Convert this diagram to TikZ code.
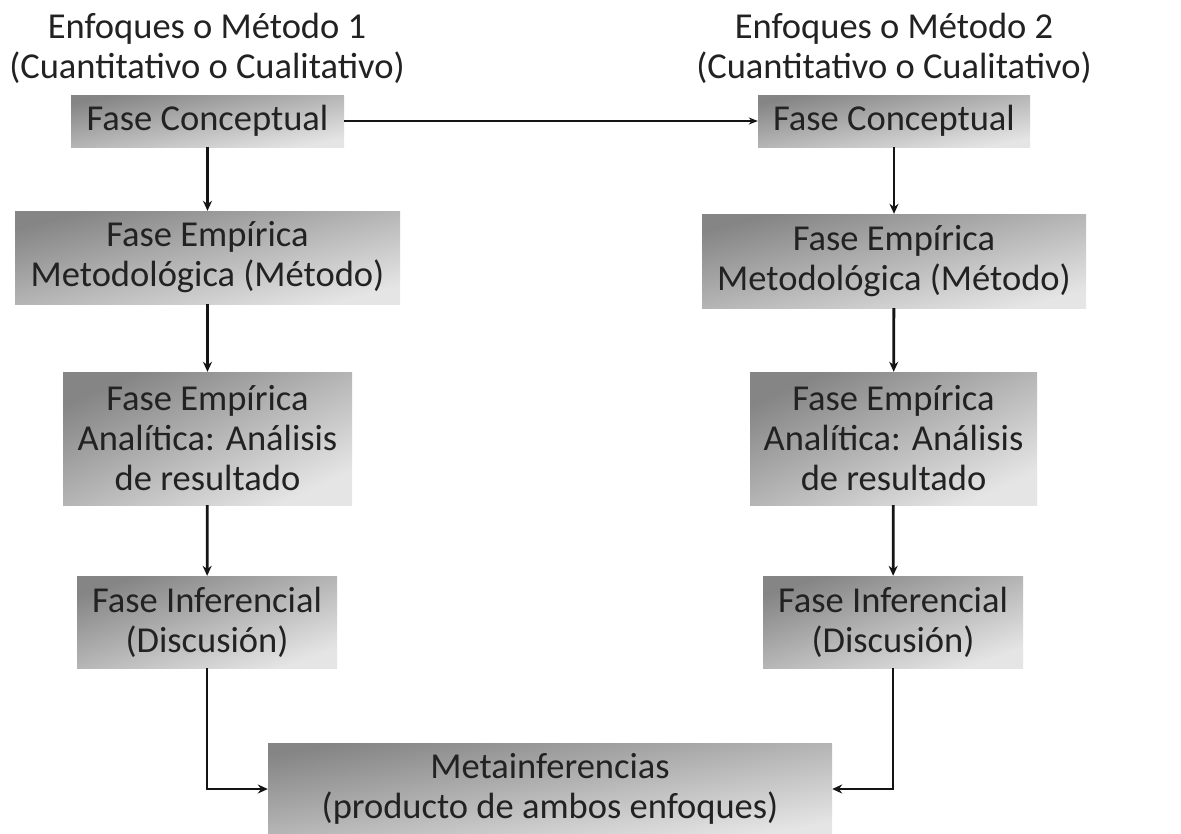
\documentclass[tikz,border=0pt]{standalone}
\usepackage{fontspec}
\setmainfont{Carlito}
\usetikzlibrary{arrows.meta}
\definecolor{txt}{HTML}{222222}
\tikzset{
  fase/.style={inner sep=0pt, align=center, text=txt, font=\fontsize{36.5}{40}\selectfont,
    top color=black!48, bottom color=black!10},
  ang/.style={shading angle=#1},
  titulo/.style={inner sep=0pt, align=center, text=txt, font=\fontsize{36.5}{40}\selectfont},
  flecha/.style={line width=2.8pt, draw=black!92, -{Stealth[length=10pt,width=9pt]}},
  flechafina/.style={line width=1.5pt, draw=black!92, -{Stealth[length=9pt,width=7pt]}}
}
\begin{document}
\begin{tikzpicture}[x=1pt,y=-1pt]
\useasboundingbox[fill=white] (0,0) rectangle (1181,833);
\node[titulo] (t1) at (207,48) {Enfoques o Método 1\\(Cuantitativo o Cualitativo)};
\node[titulo] (t2) at (894,48) {Enfoques o Método 2\\(Cuantitativo o Cualitativo)};

\node[fase, ang=11, minimum width=273pt, minimum height=52pt] (l1) at (207.5,121) {Fase Conceptual};
\node[fase, ang=14, minimum width=385pt, minimum height=93pt] (l2) at (207.5,257.5) {Fase Empírica\\Metodológica (Método)};
\node[fase, ang=25, minimum width=289pt, minimum height=133pt] (l3) at (207.5,438.5) {Fase Empírica\\Analítica: Análisis\\de resultado};
\node[fase, ang=19, minimum width=260pt, minimum height=92pt] (l4) at (207,622) {Fase Inferencial\\(Discusión)};

\node[fase, ang=11, minimum width=272pt, minimum height=52pt] (r1) at (894,121) {Fase Conceptual};
\node[fase, ang=14, minimum width=384pt, minimum height=94pt] (r2) at (894,261) {Fase Empírica\\Metodológica (Método)};
\node[fase, ang=25, minimum width=287pt, minimum height=133pt] (r3) at (893.5,438.5) {Fase Empírica\\Analítica: Análisis\\de resultado};
\node[fase, ang=19, minimum width=260pt, minimum height=92pt] (r4) at (893,622) {Fase Inferencial\\(Discusión)};

\node[fase, ang=9, minimum width=564pt, minimum height=92pt] (m) at (550,789) {Metainferencias\\(producto de ambos enfoques)};

\draw[flechafina] (l1) -- (r1);
\draw[flecha] (l1) -- (l2);
\draw[flecha] (l2) -- (l3);
\draw[flecha] (l3) -- (l4);
\draw[flecha] (r1) -- (r2);
\draw[flecha] (r2) -- (r3);
\draw[flecha] (r3) -- (r4);
\draw[flecha] (l4.south) |- (m.west);
\draw[flecha] (r4.south) |- (m.east);
\end{tikzpicture}
\end{document}
